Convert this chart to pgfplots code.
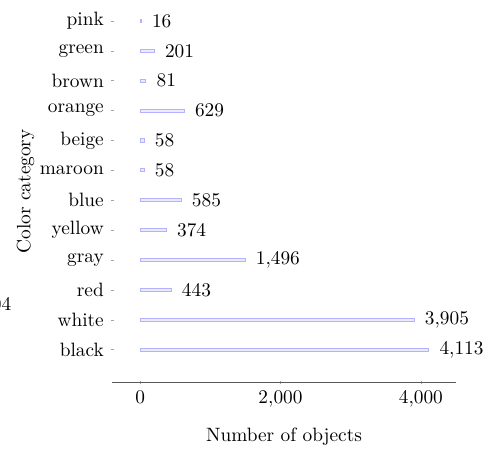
\documentclass[border=0pt]{standalone}
\usepackage{pgfplots}
\pgfplotsset{compat=1.18}
\begin{document}
\begin{tikzpicture}
\begin{axis}[
  name=ax,
  scale only axis,
  width=178pt, height=198pt,
  xbar,
  bar width=1.6pt,
  xmin=-400, xmax=4500,
  ymin=-1.1, ymax=11.7,
  axis x line=bottom,
  axis y line=left,
  x axis line style={-, black!65},
  y axis line style={draw=none},
  ytick={0,...,11},
  yticklabels={black,white,red,gray,yellow,blue,maroon,beige,orange,brown,green,pink},
  xtick={0,2000,4000},
  tick style={black!35},
  major tick length=1.5pt,
  xlabel={Number of objects},
  xlabel shift=4pt,
  ylabel={Color category},
  ylabel shift=-4pt,
  nodes near coords,
  nodes near coords align={horizontal},
  every node near coord/.append style={black, xshift=2pt},
]
\addplot[draw=blue!30, fill=blue!8, line width=0.5pt] coordinates {
  (4113,0) (3905,1) (443,2) (1496,3) (374,4) (585,5) (58,6) (58,7) (629,8) (81,9) (201,10) (16,11)
};
\end{axis}
\node[anchor=east, inner sep=0pt, text=black] (n04) at ([xshift=-52pt, yshift=40.5pt]ax.south west) {04};
\coordinate (BL) at (current bounding box.south west);
\coordinate (TR) at (current bounding box.north east);
\pgfresetboundingbox
\useasboundingbox ([xshift=-6pt]n04.east |- BL) rectangle (TR);
\end{tikzpicture}
\end{document}
